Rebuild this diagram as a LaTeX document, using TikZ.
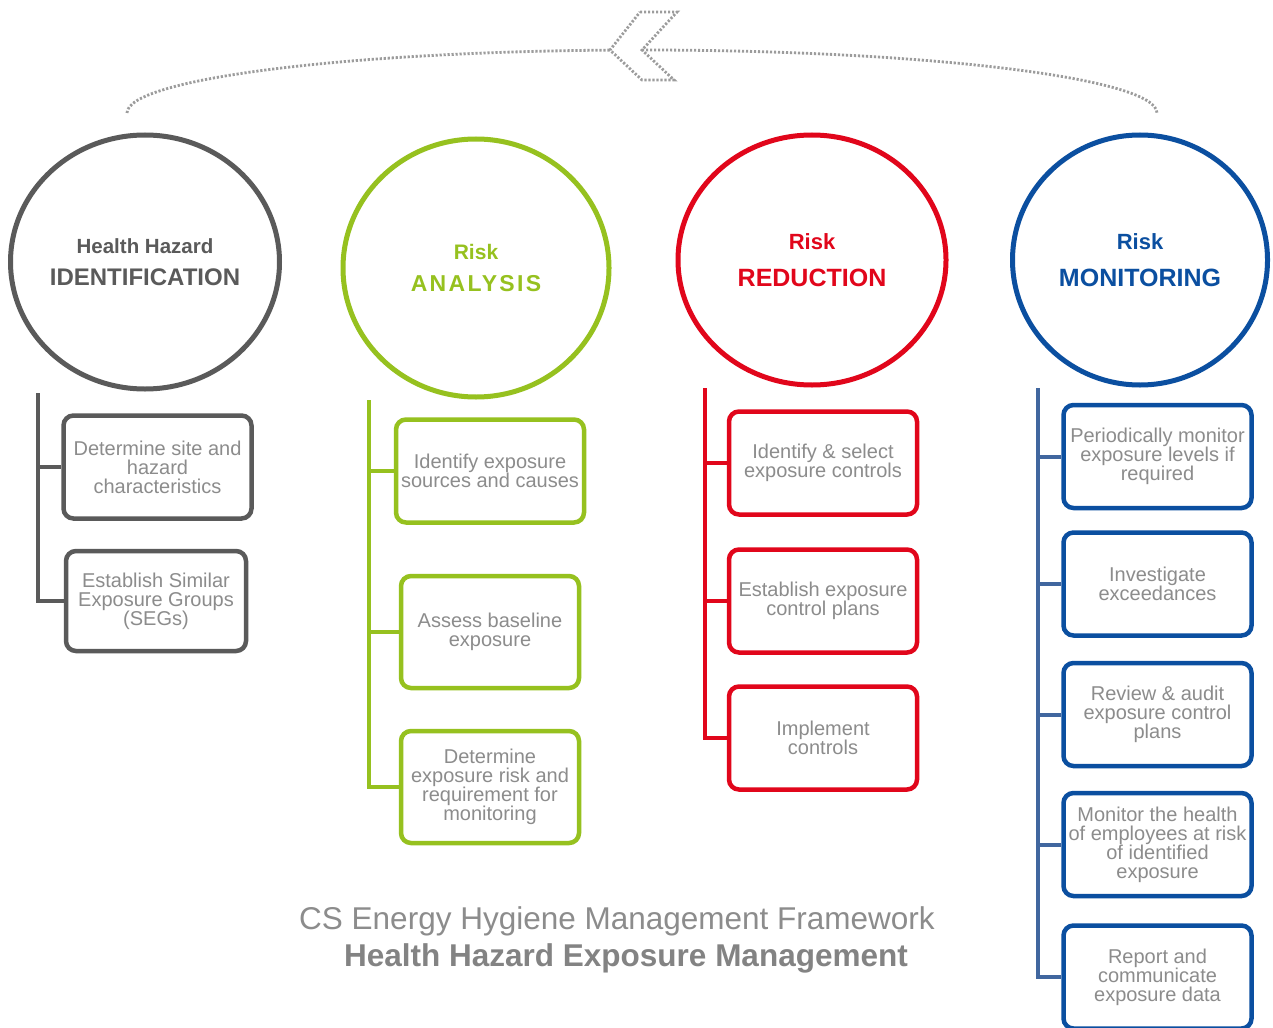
\documentclass[tikz,border=0pt]{standalone}
\usepackage{fontspec}
\setmainfont{Liberation Sans}
\usetikzlibrary{shapes.geometric}
\definecolor{cgray}{HTML}{5A5A5A}
\definecolor{cgreen}{HTML}{96C11F}
\definecolor{cred}{HTML}{E1061B}
\definecolor{cblue}{HTML}{0B4FA0}
\definecolor{cbluel}{HTML}{41679F}
\definecolor{txt}{HTML}{8C8C8C}
\definecolor{dotc}{HTML}{9C9C9C}
\begin{document}
\begin{tikzpicture}[x=1pt,y=1pt,
 circ/.style={ellipse, draw, line width=5pt, inner sep=0pt, align=center, font=\bfseries},
 box/.style={draw, line width=4.5pt, rounded corners=10pt, align=center, text=txt, inner sep=0pt, minimum width=188pt, minimum height=103pt, font=\fontsize{20}{19}\selectfont},
 trunk/.style={line width=4pt},
 dotline/.style={draw=dotc, line width=2.8pt, dash pattern=on 2.2pt off 1.8pt},
 ttl/.style={text=txt, inner sep=0pt},
]
\useasboundingbox (0,0) rectangle (1273,-1027);
\fill[white] (0,0) rectangle (1273,-1027);

% top dotted return arrow
\coordinate (arcL) at (127,-113);
\coordinate (arcM) at (642,-50);
\draw[dotline] (arcL) arc[start angle=180, end angle=93.6, x radius=515, y radius=63];
\draw[dotline] (arcM) arc[start angle=90, end angle=0, x radius=515, y radius=63];
\draw[dotline, line join=miter] (640,-12) -- (677,-12) -- (642,-50) -- (674,-80) -- (642,-80) -- (610,-50) -- cycle;

% circles
\node[circ, draw=cgray, text=cgray, minimum width=265pt, minimum height=254pt] (c1) at (145,-262)
 {\fontsize{20.5}{21}\selectfont Health Hazard\\[14pt]\fontsize{24}{24}\selectfont IDENTIFICATION};
\node[circ, draw=cgreen, text=cgreen, minimum width=266pt, minimum height=258pt] (c2) at (476,-268)
 {\fontsize{21}{22}\selectfont Risk\\[15pt]\fontsize{23}{24}\selectfont\addfontfeature{LetterSpace=10}ANALYSIS};
\node[circ, draw=cred, text=cred, minimum width=268pt, minimum height=250pt] (c3) at (812,-260)
 {\fontsize{22}{23}\selectfont Risk\\[18pt]\fontsize{25}{26}\selectfont REDUCTION};
\node[circ, draw=cblue, text=cblue, minimum width=255pt, minimum height=250pt] (c4) at (1140,-260)
 {\fontsize{22}{23}\selectfont Risk\\[18pt]\fontsize{25}{26}\selectfont MONITORING};

% gray column
\node[box, draw=cgray] (b1) at (157.5,-467) {Determine site and\\hazard\\characteristics};
\node[box, draw=cgray, minimum width=180pt, minimum height=100pt] (b2) at (156,-601) {Establish Similar\\Exposure Groups\\(SEGs)};
\coordinate (gt) at (38,-393);
\draw[trunk, cgray] (gt) |- (b1.west);
\draw[trunk, cgray] (gt) |- (b2.west);

% green column
\node[box, draw=cgreen] (g1) at (490,-471) {Identify exposure\\sources and causes};
\node[box, draw=cgreen, minimum width=178pt, minimum height=112pt] (g2) at (490,-632) {Assess baseline\\exposure};
\node[box, draw=cgreen, minimum width=178pt, minimum height=112pt] (g3) at (490,-787) {Determine\\exposure risk and\\requirement for\\monitoring};
\coordinate (gr) at (369,-400);
\draw[trunk, cgreen] (gr) |- (g1.west);
\draw[trunk, cgreen] (gr) |- (g2.west);
\draw[trunk, cgreen] (gr) |- (g3.west);

% red column
\node[box, draw=cred] (r1) at (823,-463) {Identify \& select\\exposure controls};
\node[box, draw=cred] (r2) at (823,-601) {Establish exposure\\control plans};
\node[box, draw=cred] (r3) at (823,-738) {Implement\\controls};
\coordinate (rt) at (705,-388);
\draw[trunk, cred] (rt) |- (r1.west);
\draw[trunk, cred] (rt) |- (r2.west);
\draw[trunk, cred] (rt) |- (r3.west);

% blue column
\node[box, draw=cblue] (m1) at (1157.5,-456.5) {Periodically monitor\\exposure levels if\\required};
\node[box, draw=cblue] (m2) at (1157.5,-584) {Investigate\\exceedances};
\node[box, draw=cblue] (m3) at (1157.5,-714.5) {Review \& audit\\exposure control\\plans};
\node[box, draw=cblue] (m4) at (1157.5,-844.5) {Monitor the health\\of employees at risk\\of identified\\exposure};
\node[box, draw=cblue] (m5) at (1157.5,-977) {Report and\\communicate\\exposure data};
\coordinate (mt) at (1038,-388);
\draw[trunk, cbluel] (mt) |- (m1.west);
\draw[trunk, cbluel] (mt) |- (m2.west);
\draw[trunk, cbluel] (mt) |- (m3.west);
\draw[trunk, cbluel] (mt) |- (m4.west);
\draw[trunk, cbluel] (mt) |- (m5.west);

% title
\node[ttl, font=\fontsize{31.5}{32}\selectfont] (t1) at (617,-921) {CS Energy Hygiene Management Framework};
\node[ttl, text=cgray!75, font=\fontsize{31.5}{32}\selectfont\bfseries] (t2) at (626,-958) {Health Hazard Exposure Management};
\end{tikzpicture}
\end{document}
